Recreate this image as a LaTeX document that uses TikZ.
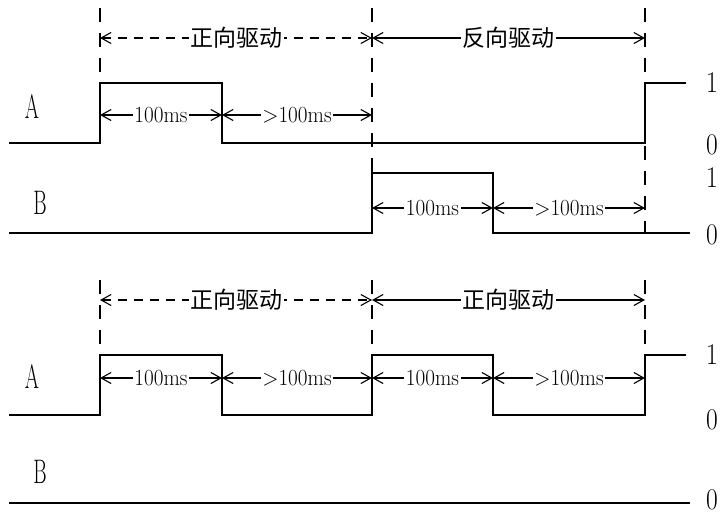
\documentclass[tikz,border=0pt]{standalone}
\usepackage{fontspec}
\newfontfamily\cjk{Noto Sans CJK SC}
\usetikzlibrary{arrows.meta}
\newcommand{\narrowtxt}[2]{\scalebox{#1}[1]{#2}}
\begin{document}
\begin{tikzpicture}[x=1pt,y=-1pt,
  sig/.style={line width=1.8pt, line join=miter},
  guide/.style={line width=1.4pt, dash pattern=on 14pt off 11pt},
  dim/.style={line width=1.1pt, {Straight Barb[length=10pt,width=11pt]}-{Straight Barb[length=10pt,width=11pt]}},
  dimdash/.style={dim, dash pattern=on 9pt off 7pt},
  lbl/.style={fill=white, inner sep=1.5pt, font=\fontsize{23}{23}\selectfont},
  cn/.style={fill=white, inner sep=1.5pt, font=\cjk\fontsize{23}{23}\selectfont},
  ch/.style={font=\fontsize{34}{34}\selectfont, inner sep=0pt},
  lv/.style={font=\fontsize{30}{30}\selectfont, anchor=west, inner sep=0pt}
]
\useasboundingbox (0,0) rectangle (724,517);

% ---------- top diagram ----------
\draw[guide] (100,8) -- (100,83);
\draw[guide] (372,8) -- (372,173);
\draw[guide] (645,8) -- (645,83);
\draw[guide] (645,146) -- (645,233);

\coordinate (ta0) at (100,38);
\coordinate (ta1) at (372,38);
\coordinate (ta2) at (645,38);
\draw[dimdash] (ta0) -- (ta1) node[cn, midway] (tfw) {正向驱动};
\draw[dim] (ta1) -- (ta2) node[cn, midway] (trv) {反向驱动};

\draw[sig] (9,143) -| (100,83) -| (222,143) -| (645,83) -- (686,83);
\draw[sig] (9,233) -| (372,173) -| (493,233) -- (690,233);

\coordinate (pa0) at (100,115);
\coordinate (pa1) at (222,115);
\coordinate (pa2) at (372,115);
\draw[dim] (pa0) -- (pa1) node[lbl, midway] (pA1) {\narrowtxt{0.92}{100ms}};
\draw[dim] (pa1) -- (pa2) node[lbl, midway] (pA2) {\narrowtxt{0.92}{>100ms}};

\coordinate (pb0) at (372,208);
\coordinate (pb1) at (493,208);
\coordinate (pb2) at (645,208);
\draw[dim] (pb0) -- (pb1) node[lbl, midway] (pB1) {\narrowtxt{0.92}{100ms}};
\draw[dim] (pb1) -- (pb2) node[lbl, midway] (pB2) {\narrowtxt{0.92}{>100ms}};

\node[ch] (tA) at (32,106) {\narrowtxt{0.6}{A}};
\node[ch] (tB) at (40,203) {\narrowtxt{0.6}{B}};

\node[lv] (l1) at (706,83) {\narrowtxt{0.85}{1}};
\node[lv] (l2) at (706,145) {\narrowtxt{0.85}{0}};
\node[lv] (l3) at (706,178) {\narrowtxt{0.85}{1}};
\node[lv] (l4) at (706,235) {\narrowtxt{0.85}{0}};

% ---------- bottom diagram ----------
\draw[guide] (100,280) -- (100,355);
\draw[guide] (372,280) -- (372,355);
\draw[guide] (645,280) -- (645,355);

\coordinate (ba0) at (100,300);
\coordinate (ba1) at (372,300);
\coordinate (ba2) at (645,300);
\draw[dimdash] (ba0) -- (ba1) node[cn, midway] (bfw1) {正向驱动};
\draw[dim] (ba1) -- (ba2) node[cn, midway] (bfw2) {正向驱动};

\draw[sig] (9,415) -| (100,355) -| (222,415) -| (372,355) -| (493,415) -| (645,355) -- (686,355);
\draw[sig] (9,503) -- (690,503);

\coordinate (qa0) at (100,378);
\coordinate (qa1) at (222,378);
\coordinate (qa2) at (372,378);
\coordinate (qa3) at (493,378);
\coordinate (qa4) at (645,378);
\draw[dim] (qa0) -- (qa1) node[lbl, midway] (q1) {\narrowtxt{0.92}{100ms}};
\draw[dim] (qa1) -- (qa2) node[lbl, midway] (q2) {\narrowtxt{0.92}{>100ms}};
\draw[dim] (qa2) -- (qa3) node[lbl, midway] (q3) {\narrowtxt{0.92}{100ms}};
\draw[dim] (qa3) -- (qa4) node[lbl, midway] (q4) {\narrowtxt{0.92}{>100ms}};

\node[ch] (bA) at (32,376) {\narrowtxt{0.6}{A}};
\node[ch] (bB) at (40,472) {\narrowtxt{0.6}{B}};

\node[lv] (m1) at (706,355) {\narrowtxt{0.85}{1}};
\node[lv] (m2) at (706,420) {\narrowtxt{0.85}{0}};
\node[lv] (m3) at (706,500) {\narrowtxt{0.85}{0}};
\end{tikzpicture}
\end{document}
